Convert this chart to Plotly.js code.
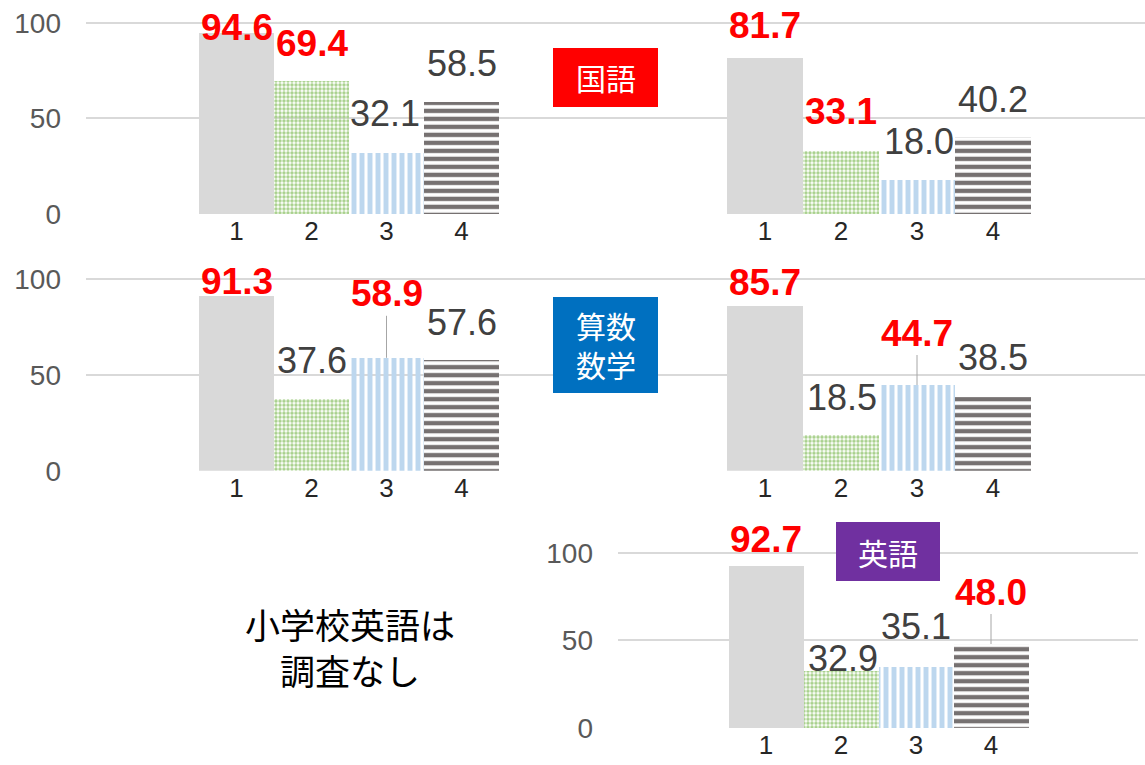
<!DOCTYPE html>
<html><head><meta charset="utf-8">
<script src="https://cdn.plot.ly/plotly-3.0.1.min.js"></script>
<style>html,body{margin:0;padding:0;background:#fff;}#chart{width:1145px;height:765px;}</style>
</head><body><div id="chart"></div>
<script>
// ---- data ----
const categories = ['1', '2', '3', '4'];
const kokugoElem = [94.6, 69.4, 32.1, 58.5];
const kokugoJunior = [81.7, 33.1, 18.0, 40.2];
const sansuElem = [91.3, 37.6, 58.9, 57.6];
const sugakuJunior = [85.7, 18.5, 44.7, 38.5];
const eigoJunior = [92.7, 32.9, 35.1, 48.0];
const yTicks = [0, 50, 100];
const subjectTags = ['国語', '算数<br>数学', '英語'];
const noteText = '小学校英語は<br>調査なし';

// ---- layout / style ----
const W = 1145, H = 765;
const px = x => x / W, py = y => 1 - y / H;
const Y_MAX = 102;
const barColors = ['#D9D9D9', '#A9D18E', '#BDD7EE', '#767171'];
const patShapes = ['', '.', '|', '-'];
const patSizes = [8, 4, 8, 8];
const patSolid = [0.5, 0.6, 0.62, 0.55];
const NUM_FONT = 'Liberation Sans, Arial, sans-serif';
const JP_FONT = 'Noto Sans CJK JP, sans-serif';

// yd = [pixel of 100, pixel of 0]
const panels = [
  {data: kokugoElem,   red: [1,1,0,0], lift: [6,38,39,39],     dx: [0,0,-2,0], leader: [0,0,0,0], xd: [86,600],   yd: [22.7,214.3],  c1: 236.5, unit: 75, ticks: true},
  {data: kokugoJunior, red: [1,1,0,0], lift: [32,39,38,38],    dx: [0,0,2,0],  leader: [0,0,0,0], xd: [600,1145], yd: [22.7,214.3],  c1: 765,   unit: 76, ticks: false},
  {data: sansuElem,    red: [1,0,1,0], lift: [14,38,64,38],    dx: [0,0,0,0],  leader: [0,0,1,0], xd: [86,600],   yd: [279,470.7],   c1: 236.5, unit: 75, ticks: true},
  {data: sugakuJunior, red: [1,0,1,0], lift: [24,38,52,39],    dx: [0,1,0,0],  leader: [0,0,1,0], xd: [600,1145], yd: [279,470.7],   c1: 765,   unit: 76, ticks: false},
  {data: eigoJunior,   red: [1,0,0,1], lift: [26.5,12.5,40,52],dx: [0,2,0,0],  leader: [0,0,0,1], xd: [618,1138], yd: [552.7,728.3], c1: 766,   unit: 75, ticks: true}
];

const traces = [];
const layout = {
  width: W, height: H,
  margin: {l: 0, r: 0, t: 0, b: 0},
  paper_bgcolor: '#fff', plot_bgcolor: 'rgba(0,0,0,0)',
  showlegend: false, bargap: 0,
  annotations: [], shapes: []
};

panels.forEach((p, i) => {
  const n = i + 1;
  const xa = n === 1 ? 'x' : 'x' + n;
  const ya = n === 1 ? 'y' : 'y' + n;
  const topPx = p.yd[1] - (p.yd[1] - p.yd[0]) * Y_MAX / 100;
  traces.push({
    type: 'bar', x: categories, y: p.data, xaxis: xa, yaxis: ya,
    width: 1, hoverinfo: 'skip',
    marker: {
      color: barColors,
      line: {width: 0},
      pattern: {shape: patShapes, fillmode: 'replace', bgcolor: '#FFFFFF', size: patSizes, solidity: patSolid}
    }
  });
  layout['xaxis' + (n === 1 ? '' : n)] = {
    domain: [px(p.xd[0]), px(p.xd[1])],
    range: [-(p.c1 - p.xd[0]) / p.unit, (p.xd[1] - p.c1) / p.unit],
    type: 'category', anchor: ya,
    showgrid: false, zeroline: false, showline: false, ticks: '',
    tickfont: {family: NUM_FONT, size: 26, color: '#262626'},
    ticklabelstandoff: -1, fixedrange: true
  };
  layout['yaxis' + (n === 1 ? '' : n)] = {
    domain: [py(p.yd[1]), py(topPx)],
    range: [0, Y_MAX], anchor: xa,
    tickvals: yTicks, showgrid: true, gridcolor: '#D9D9D9', gridwidth: 2,
    zeroline: false, showline: false, ticks: '',
    showticklabels: p.ticks,
    tickfont: {family: NUM_FONT, size: 28, color: '#595959'},
    ticklabelstandoff: 24, fixedrange: true
  };
  p.data.forEach((v, j) => {
    const isRed = p.red[j] === 1;
    const ann = {
      xref: xa, yref: ya, x: j, y: v,   // x = category index
      text: v.toFixed(1),
      font: {family: NUM_FONT, size: isRed ? 37 : 36, color: isRed ? '#FF0000' : '#404040', weight: isRed ? 'bold' : 'normal'},
      xanchor: 'center', yanchor: 'middle', xshift: p.dx[j]
    };
    if (p.leader[j]) {
      Object.assign(ann, {showarrow: true, ax: 0, ay: -p.lift[j], arrowhead: 0, arrowwidth: 1, arrowcolor: '#A6A6A6', standoff: 0});
    } else {
      Object.assign(ann, {showarrow: false, yshift: p.lift[j]});
    }
    layout.annotations.push(ann);
  });
});

// subject tags
const tags = [
  {text: subjectTags[0], color: '#FF0000', box: [553, 48, 658, 107]},
  {text: subjectTags[1], color: '#0070C0', box: [553, 297, 658, 393]},
  {text: subjectTags[2], color: '#7030A0', box: [836, 522, 940, 581]}
];
tags.forEach(t => {
  layout.shapes.push({type: 'rect', xref: 'paper', yref: 'paper',
    x0: px(t.box[0]), x1: px(t.box[2]), y0: py(t.box[3]), y1: py(t.box[1]),
    fillcolor: t.color, line: {width: 0}, layer: 'above'});
  layout.annotations.push({xref: 'paper', yref: 'paper',
    x: px((t.box[0] + t.box[2]) / 2), y: py((t.box[1] + t.box[3]) / 2),
    text: t.text, showarrow: false, xanchor: 'center', yanchor: 'middle',
    font: {family: JP_FONT, size: 30, color: '#FFFFFF'}});
});

// note text
layout.annotations.push({xref: 'paper', yref: 'paper', x: px(350), y: py(646),
  text: noteText, showarrow: false, xanchor: 'center', yanchor: 'middle', align: 'center',
  font: {family: JP_FONT, size: 35, color: '#000000'}});

Plotly.newPlot('chart', traces, layout, {staticPlot: true, displayModeBar: false});
</script></body></html>
